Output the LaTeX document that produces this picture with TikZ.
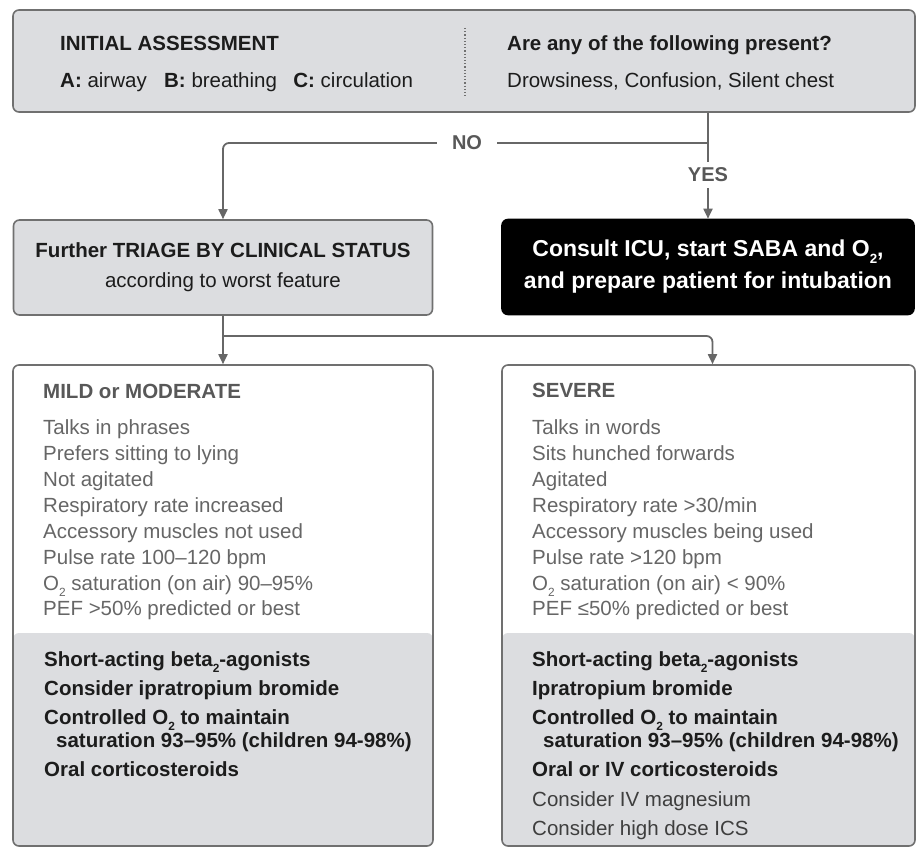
\documentclass[tikz,border=0pt]{standalone}
\usepackage{fontspec}
\setmainfont{Liberation Sans}
\usetikzlibrary{arrows.meta,calc}
\definecolor{boxgray}{HTML}{DCDDE0}
\definecolor{edge}{HTML}{707070}
\definecolor{conncol}{HTML}{676767}
\definecolor{listtext}{HTML}{666666}
\definecolor{headtext}{HTML}{585858}
\definecolor{darktext}{HTML}{1C1C1C}
\newcommand\sbtwo{\raisebox{-0.3em}{\scalebox{0.58}{2}}}
\begin{document}
\begin{tikzpicture}[x=1pt,y=-1pt,
  box/.style={draw=edge, line width=1.6pt, rounded corners=6pt, inner sep=0pt},
  graybox/.style={box, fill=boxgray},
  splitbox/.style={box, fill=white, path picture={\fill[boxgray] (path picture bounding box.south west) rectangle ([yshift=213pt]path picture bounding box.south east);}},
  conn/.style={draw=conncol, line width=1.8pt, -{Triangle[length=10pt,width=9pt]}},
  txt/.style={anchor=base west, inner sep=0pt, text=darktext, font=\fontsize{20.5}{24}\selectfont},
  btxt/.style={txt, font=\fontsize{20.5}{24}\selectfont\bfseries},
  ltxt/.style={txt, text=listtext},
  htxt/.style={btxt, text=headtext},
  lbl/.style={font=\fontsize{20}{24}\selectfont\bfseries, text=headtext, fill=white}
]
\useasboundingbox (0,0) rectangle (922,850);

% ---- top box
\node[graybox, minimum width=902pt, minimum height=102pt] (top) at (464,61) {};
\draw[dotted, line width=1.2pt, edge] (465,28) -- (465,96);
\node[btxt] (ia) at (60,51) {INITIAL ASSESSMENT};
\node[txt] (abc) at (60,88) {\textbf{A:} airway\hspace{0.85em}\textbf{B:} breathing\hspace{0.8em}\textbf{C:} circulation};
\node[btxt] (q) at (507,51) {Are any of the following present?};
\node[txt] (dcs) at (507,88) {Drowsiness, Confusion, Silent chest};

% ---- second row
\node[graybox, minimum width=419pt, minimum height=95pt, align=center, text=darktext,
      font=\fontsize{20.5}{30}\selectfont] (triage) at (223,267.5)
      {\textbf{Further TRIAGE BY CLINICAL STATUS}\\according to worst feature};
\node[box, draw=black, fill=black, minimum width=412pt, minimum height=95pt, align=center, text=white,
      font=\fontsize{23}{32}\selectfont\bfseries] (consult) at (708,267)
      {Consult ICU, start SABA and O\sbtwo,\\and prepare patient for intubation};

% ---- bottom boxes
\node[splitbox, minimum width=420pt, minimum height=481pt] (mild) at (223,605.5) {};
\node[splitbox, minimum width=413pt, minimum height=481pt] (severe) at (708.5,605.5) {};

% ---- connectors
\draw[conn] (top.south -| consult.north) -- (consult.north);
\draw[conn, rounded corners=6pt] (consult.north |- 0,143) -| (triage.north);
\node[lbl, inner xsep=15pt, inner ysep=2pt] (no) at (467,143) {NO};
\node[lbl, inner xsep=2pt, inner ysep=6pt] (yes) at (708,175) {YES};
\draw[conn] (triage.south) -- (mild.north);
\draw[conn, rounded corners=6pt] (triage.south |- 0,336) -| ([xshift=4pt]severe.north);

% ---- mild texts
\node[htxt] (mh) at (43,399) {MILD or MODERATE};
\node[ltxt] (m1) at (43,435) {Talks in phrases};
\node[ltxt] (m2) at (43,460.5) {Prefers sitting to lying};
\node[ltxt] (m3) at (43,486) {Not agitated};
\node[ltxt] (m4) at (43,512) {Respiratory rate increased};
\node[ltxt] (m5) at (43,538.5) {Accessory muscles not used};
\node[ltxt] (m6) at (43,564) {Pulse rate 100–120 bpm};
\node[ltxt] (m7) at (43,590) {O\sbtwo\ saturation (on air) 90–95\%};
\node[ltxt] (m8) at (43,615) {PEF >50\% predicted or best};

\node[btxt] (mt1) at (44,666) {Short-acting beta\sbtwo-agonists};
\node[btxt] (mt2) at (44,695) {Consider ipratropium bromide};
\node[btxt] (mt3) at (44,724) {Controlled O\sbtwo\ to maintain};
\node[btxt] (mt4) at (56,747) {saturation 93–95\% (children 94-98\%)};
\node[btxt] (mt5) at (44,776) {Oral corticosteroids};

% ---- severe texts
\node[htxt] (sh) at (532,398) {SEVERE};
\node[ltxt] (s1) at (532,435) {Talks in words};
\node[ltxt] (s2) at (532,460.5) {Sits hunched forwards};
\node[ltxt] (s3) at (532,486) {Agitated};
\node[ltxt] (s4) at (532,512) {Respiratory rate >30/min};
\node[ltxt] (s5) at (532,538.5) {Accessory muscles being used};
\node[ltxt] (s6) at (532,564) {Pulse rate >120 bpm};
\node[ltxt] (s7) at (532,590) {O\sbtwo\ saturation (on air) < 90\%};
\node[ltxt] (s8) at (532,615) {PEF ≤50\% predicted or best};

\node[btxt] (st1) at (532,666) {Short-acting beta\sbtwo-agonists};
\node[btxt] (st2) at (532,695) {Ipratropium bromide};
\node[btxt] (st3) at (532,724) {Controlled O\sbtwo\ to maintain};
\node[btxt] (st4) at (543,747) {saturation 93–95\% (children 94-98\%)};
\node[btxt] (st5) at (532,776) {Oral or IV corticosteroids};
\node[txt, text=darktext!85] (st6) at (532,806) {Consider IV magnesium};
\node[txt, text=darktext!85] (st7) at (532,835) {Consider high dose ICS};
\end{tikzpicture}
\end{document}
